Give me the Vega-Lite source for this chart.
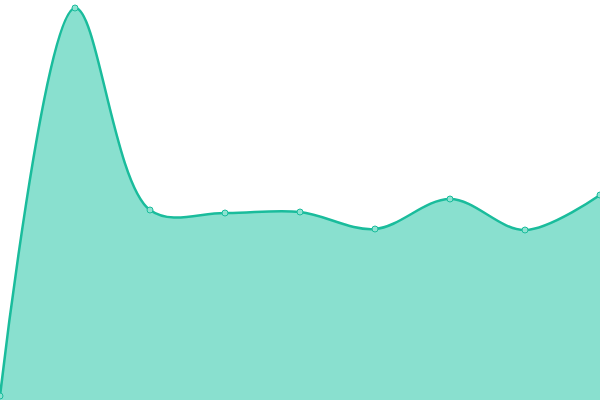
{
  "$schema": "https://vega.github.io/schema/vega-lite/v6.json",
  "autosize": {"type": "none"},
  "width": 600, "height": 400,
  "padding": 0,
  "data": {
    "values": [
      {"i": 0, "v": 4},
      {"i": 1, "v": 392},
      {"i": 2, "v": 190},
      {"i": 3, "v": 187},
      {"i": 4, "v": 188},
      {"i": 5, "v": 171},
      {"i": 6, "v": 201},
      {"i": 7, "v": 170},
      {"i": 8, "v": 205}
    ]
  },
  "encoding": {
    "x": {
      "field": "i",
      "type": "quantitative",
      "scale": {"domain": [0, 8], "nice": false, "zero": false},
      "axis": null
    },
    "y": {
      "field": "v",
      "type": "quantitative",
      "scale": {"domain": [0, 400], "nice": false},
      "axis": null
    }
  },
  "layer": [{
    "mark": {
      "type": "area",
      "interpolate": "catmull-rom",
      "color": "#89e0cf",
      "opacity": 1,
      "line": {"color": "#1abc9c", "strokeWidth": 2.5}
    }
  }, {
    "mark": {
      "type": "point",
      "filled": true,
      "fill": "#8fe2d1",
      "stroke": "#1abc9c",
      "strokeWidth": 1,
      "size": 36,
      "opacity": 1
    }
  }],
  "config": {
    "view": {"stroke": null}
  }
}
